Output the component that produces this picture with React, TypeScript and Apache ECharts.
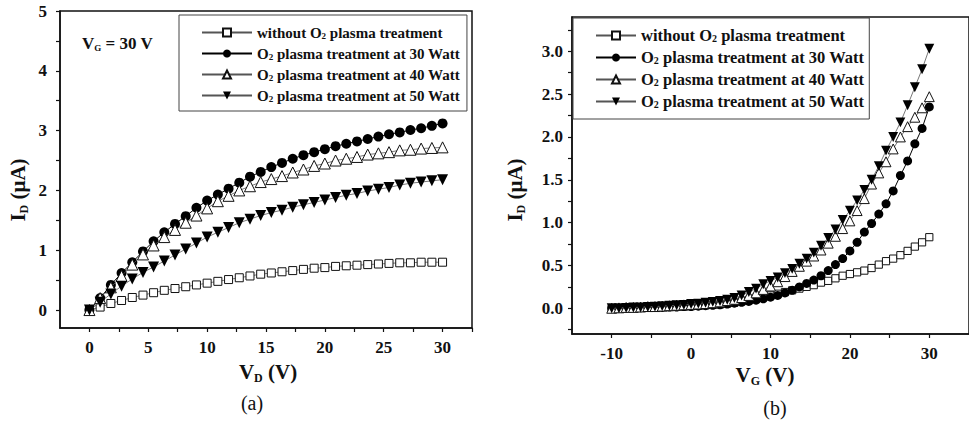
import React, { useEffect, useRef } from "react";
import * as echarts from "echarts";

// ---------- data ----------
const SERIES_NAMES = [
  "without O2 plasma treatment",
  "O2 plasma treatment at 30 Watt",
  "O2 plasma treatment at 40 Watt",
  "O2 plasma treatment at 50 Watt",
];

// (a) output characteristics, V_G = 30 V
const VD = [0, 0.91, 1.82, 2.73, 3.64, 4.55, 5.45, 6.36, 7.27, 8.18, 9.09, 10, 10.91, 11.82, 12.73, 13.64, 14.55,
  15.45, 16.36, 17.27, 18.18, 19.09, 20, 20.91, 21.82, 22.73, 23.64, 24.55, 25.45, 26.36, 27.27, 28.18, 29.09, 30];
const A_NONE = [0, 0.05, 0.11, 0.16, 0.21, 0.25, 0.29, 0.33, 0.36, 0.39, 0.42, 0.45, 0.48, 0.51, 0.54, 0.57, 0.6,
  0.62, 0.64, 0.66, 0.68, 0.7, 0.71, 0.73, 0.74, 0.75, 0.76, 0.77, 0.78, 0.79, 0.79, 0.8, 0.8, 0.8];
const A_30W = [0, 0.2, 0.42, 0.62, 0.8, 0.98, 1.15, 1.3, 1.44, 1.57, 1.71, 1.83, 1.93, 2.03, 2.13, 2.23, 2.31,
  2.39, 2.46, 2.53, 2.59, 2.64, 2.69, 2.74, 2.78, 2.82, 2.86, 2.9, 2.94, 2.97, 3.01, 3.04, 3.08, 3.12];
const A_40W = [0, 0.2, 0.38, 0.57, 0.76, 0.93, 1.08, 1.22, 1.34, 1.46, 1.58, 1.7, 1.82, 1.91, 2.0, 2.07, 2.14,
  2.19, 2.24, 2.3, 2.35, 2.41, 2.45, 2.5, 2.53, 2.56, 2.6, 2.62, 2.64, 2.67, 2.68, 2.7, 2.71, 2.72];
const A_50W = [0, 0.13, 0.27, 0.4, 0.52, 0.63, 0.72, 0.82, 0.92, 1.02, 1.12, 1.22, 1.3, 1.38, 1.46, 1.52, 1.58,
  1.63, 1.67, 1.72, 1.76, 1.8, 1.84, 1.88, 1.92, 1.95, 1.99, 2.02, 2.05, 2.09, 2.12, 2.14, 2.16, 2.18];

// (b) transfer characteristics
const VG = [-10, -9.09, -8.18, -7.27, -6.36, -5.45, -4.55, -3.64, -2.73, -1.82, -0.91, 0, 0.91, 1.82, 2.73, 3.64,
  4.55, 5.45, 6.36, 7.27, 8.18, 9.09, 10, 10.91, 11.82, 12.73, 13.64, 14.55, 15.45, 16.36, 17.27, 18.18, 19.09, 20,
  20.91, 21.82, 22.73, 23.64, 24.55, 25.45, 26.36, 27.27, 28.18, 29.09, 30];
const B_NONE = [0, 0, 0.005, 0.005, 0.01, 0.01, 0.01, 0.015, 0.015, 0.02, 0.02, 0.025, 0.03, 0.035, 0.04, 0.045,
  0.055, 0.065, 0.08, 0.095, 0.11, 0.13, 0.15, 0.17, 0.19, 0.21, 0.23, 0.25, 0.27, 0.3, 0.32, 0.35, 0.38, 0.4,
  0.42, 0.44, 0.47, 0.51, 0.55, 0.58, 0.62, 0.67, 0.72, 0.77, 0.83];
const B_30W = [0, 0, 0, 0.005, 0.005, 0.01, 0.01, 0.01, 0.015, 0.015, 0.02, 0.02, 0.025, 0.03, 0.035, 0.04,
  0.05, 0.06, 0.07, 0.08, 0.095, 0.11, 0.13, 0.15, 0.18, 0.21, 0.25, 0.29, 0.33, 0.38, 0.44, 0.51, 0.58, 0.67,
  0.77, 0.89, 0.99, 1.1, 1.22, 1.37, 1.55, 1.72, 1.92, 2.1, 2.35];
const B_40W = [0, 0.005, 0.01, 0.01, 0.015, 0.02, 0.02, 0.025, 0.03, 0.035, 0.04, 0.045, 0.05, 0.055, 0.065, 0.075,
  0.09, 0.105, 0.125, 0.15, 0.18, 0.22, 0.26, 0.31, 0.37, 0.43, 0.49, 0.55, 0.61, 0.68, 0.76, 0.84, 0.93, 1.02,
  1.14, 1.28, 1.45, 1.58, 1.71, 1.86, 2.0, 2.12, 2.23, 2.34, 2.47];
const B_50W = [0, 0, 0.005, 0.01, 0.01, 0.015, 0.02, 0.025, 0.03, 0.035, 0.04, 0.05, 0.055, 0.065, 0.075, 0.085,
  0.1, 0.12, 0.15, 0.19, 0.23, 0.28, 0.32, 0.36, 0.41, 0.46, 0.52, 0.58, 0.65, 0.73, 0.82, 0.92, 1.03, 1.14,
  1.26, 1.38, 1.5, 1.66, 1.84, 2.0, 2.17, 2.37, 2.58, 2.79, 3.03];

// tick values / labels
const XA_LABELS = [0, 5, 10, 15, 20, 25, 30];
const XA_TICKS = [0, 2.5, 5, 7.5, 10, 12.5, 15, 17.5, 20, 22.5, 25, 27.5, 30, 32.5];
const YA_LABELS = [0, 1, 2, 3, 4, 5];
const YA_TICKS = [0, 0.5, 1, 1.5, 2, 2.5, 3, 3.5, 4, 4.5, 5];
const XB_LABELS = [-10, 0, 10, 20, 30];
const XB_TICKS = [-10, -5, 0, 5, 10, 15, 20, 25, 30];
const YB_LABELS = [0, 0.5, 1, 1.5, 2, 2.5, 3];
const YB_TICKS = [-0.25, 0, 0.25, 0.5, 0.75, 1, 1.25, 1.5, 1.75, 2, 2.25, 2.5, 2.75, 3, 3.25];

const FONT = "'Liberation Serif', 'Times New Roman', serif";
const DOWN_TRI = "path://M0,0 L10,0 L5,9 Z";

function legendFormatter(name: string) {
  const parts = name.split("O2");
  return parts.map((p) => (p ? `{n|${p}}` : "")).join("{n|O}{s|2}");
}

function buildSeries(gridIdx: number, xs: number[], arrs: number[][], big: boolean) {
  const k = big ? 1 : 0.9;
  const styles = [
    { symbol: "rect", size: 8 * k, fill: "#fff", line: "#555", lw: 0.8 },
    { symbol: "circle", size: 10 * k, fill: "#000", line: "#000", lw: 1 },
    { symbol: "triangle", size: 11 * k, fill: "#fff", line: "#555", lw: 0.8 },
    { symbol: DOWN_TRI, size: 11 * k, fill: "#000", line: "#555", lw: 0.8 },
  ];
  return arrs.map((arr, si) => {
    const s = styles[si];
    return {
      type: "line",
      name: SERIES_NAMES[si],
      xAxisIndex: gridIdx,
      yAxisIndex: gridIdx,
      data: xs.map((x, i) => [x, arr[i]]),
      symbol: s.symbol,
      symbolSize: s.size,
      showAllSymbol: true,
      lineStyle: { color: s.line, width: s.lw },
      itemStyle: {
        color: s.fill,
        borderColor: "#111",
        borderWidth: s.fill === "#fff" ? 1 : 0,
      },
      emphasis: { disabled: true },
      z: 2 + si,
    };
  });
}

function axisCommon() {
  return {
    type: "value",
    splitLine: { show: false },
    axisLine: { show: true, onZero: false, lineStyle: { color: "#111", width: 1.5 } },
    axisTick: { show: true, inside: false, length: 4, lineStyle: { color: "#111", width: 1.2 } },
  };
}

const labelStyle = {
  fontFamily: FONT,
  fontWeight: "bold",
  fontSize: 17,
  color: "#111",
};

function legendCfg(left: number, top: number, itemWidth: number, fontSize: number, gap: number, pad: number[]) {
  return {
    show: true,
    orient: "vertical",
    left,
    top,
    padding: pad,
    itemGap: gap,
    itemWidth,
    itemHeight: 10,
    borderColor: "#444",
    borderWidth: 1,
    backgroundColor: "#fff",
    selectedMode: false,
    data: SERIES_NAMES,
    formatter: legendFormatter,
    textStyle: {
      color: "#111",
      rich: {
        n: { fontFamily: FONT, fontWeight: "bold", fontSize, lineHeight: 16, color: "#111" },
        s: {
          fontFamily: FONT,
          fontWeight: "bold",
          fontSize: Math.round(fontSize * 0.6),
          lineHeight: 10,
          color: "#111",
          padding: [6, 0, 0, 0],
        },
      },
    },
  };
}

const titleRich = (size: number) => ({
  b: { fontFamily: FONT, fontWeight: "bold", fontSize: size, fill: "#111" },
  s: { fontFamily: FONT, fontWeight: "bold", fontSize: Math.round(size * 0.55), fill: "#111", padding: [Math.round(size * 0.55), 0, 0, 0] },
});

export default function App() {
  const ref = useRef<HTMLDivElement>(null);
  useEffect(() => {
    if (!ref.current) return;
    const chart = echarts.init(ref.current, null, { renderer: "svg" });
    const option: any = {
      animation: false,
      backgroundColor: "#fff",
      grid: [
        { left: 60, top: 11, width: 412, height: 317, show: true, borderColor: "#111", borderWidth: 1.5, backgroundColor: "transparent" },
        { left: 572, top: 17, width: 405, height: 317, show: true, borderColor: "#111", borderWidth: 1.5, backgroundColor: "transparent" },
      ],
      xAxis: [
        {
          ...axisCommon(),
          gridIndex: 0,
          min: -2.5,
          max: 32.5,
          axisTick: { ...axisCommon().axisTick, customValues: XA_TICKS },
          axisLabel: { ...labelStyle, margin: 11, customValues: XA_LABELS, formatter: (v: number) => String(v) },
        },
        {
          ...axisCommon(),
          gridIndex: 1,
          min: -15,
          max: 35,
          axisTick: { ...axisCommon().axisTick, customValues: XB_TICKS },
          axisLabel: { ...labelStyle, margin: 11, customValues: XB_LABELS, formatter: (v: number) => String(v) },
        },
      ],
      yAxis: [
        {
          ...axisCommon(),
          gridIndex: 0,
          min: -0.3,
          max: 5,
          axisTick: { ...axisCommon().axisTick, customValues: YA_TICKS },
          axisLabel: { ...labelStyle, margin: 13, customValues: YA_LABELS, formatter: (v: number) => String(v) },
        },
        {
          ...axisCommon(),
          gridIndex: 1,
          min: -0.3,
          max: 3.4,
          axisTick: { ...axisCommon().axisTick, customValues: YB_TICKS },
          axisLabel: { ...labelStyle, margin: 9, customValues: YB_LABELS, formatter: (v: number) => v.toFixed(1) },
        },
      ],
      legend: [
        legendCfg(179, 15, 50, 15, 6, [10, 7, 8, 22]),
        legendCfg(573, 18, 40, 16.5, 5, [9, 5, 9, 22]),
      ],
      series: [
        ...buildSeries(0, VD, [A_NONE, A_30W, A_40W, A_50W], true),
        ...buildSeries(1, VG, [B_NONE, B_30W, B_40W, B_50W], false),
      ],
      graphic: [
        { type: "text", x: 82, y: 43, z: 10, style: { text: "{b|V}{s|G}{b| = 30 V}", rich: titleRich(17), verticalAlign: "middle" } },
        { type: "text", x: 18, y: 190, rotation: Math.PI / 2, z: 10, style: { text: "{b|I}{s|D}{b| (μA)}", rich: titleRich(21), align: "center", verticalAlign: "middle" } },
        { type: "text", x: 515, y: 190, rotation: Math.PI / 2, z: 10, style: { text: "{b|I}{s|D}{b| (μA)}", rich: titleRich(21), align: "center", verticalAlign: "middle" } },
        { type: "text", x: 268, y: 372, z: 10, style: { text: "{b|V}{s|D}{b| (V)}", rich: titleRich(21), align: "center", verticalAlign: "middle" } },
        { type: "text", x: 765, y: 375, z: 10, style: { text: "{b|V}{s|G}{b| (V)}", rich: titleRich(21), align: "center", verticalAlign: "middle" } },
        { type: "text", x: 252, y: 403, z: 10, style: { text: "(a)", fontFamily: FONT, fontSize: 20, fill: "#111", align: "center", verticalAlign: "middle" } },
        { type: "text", x: 775, y: 408, z: 10, style: { text: "(b)", fontFamily: FONT, fontSize: 20, fill: "#111", align: "center", verticalAlign: "middle" } },
      ],
    };
    chart.setOption(option);
    return () => chart.dispose();
  }, []);
  return (
    <div
      ref={ref}
      style={{ position: "fixed", left: 0, top: 0, width: 969, height: 423, background: "#fff" }}
    />
  );
}
